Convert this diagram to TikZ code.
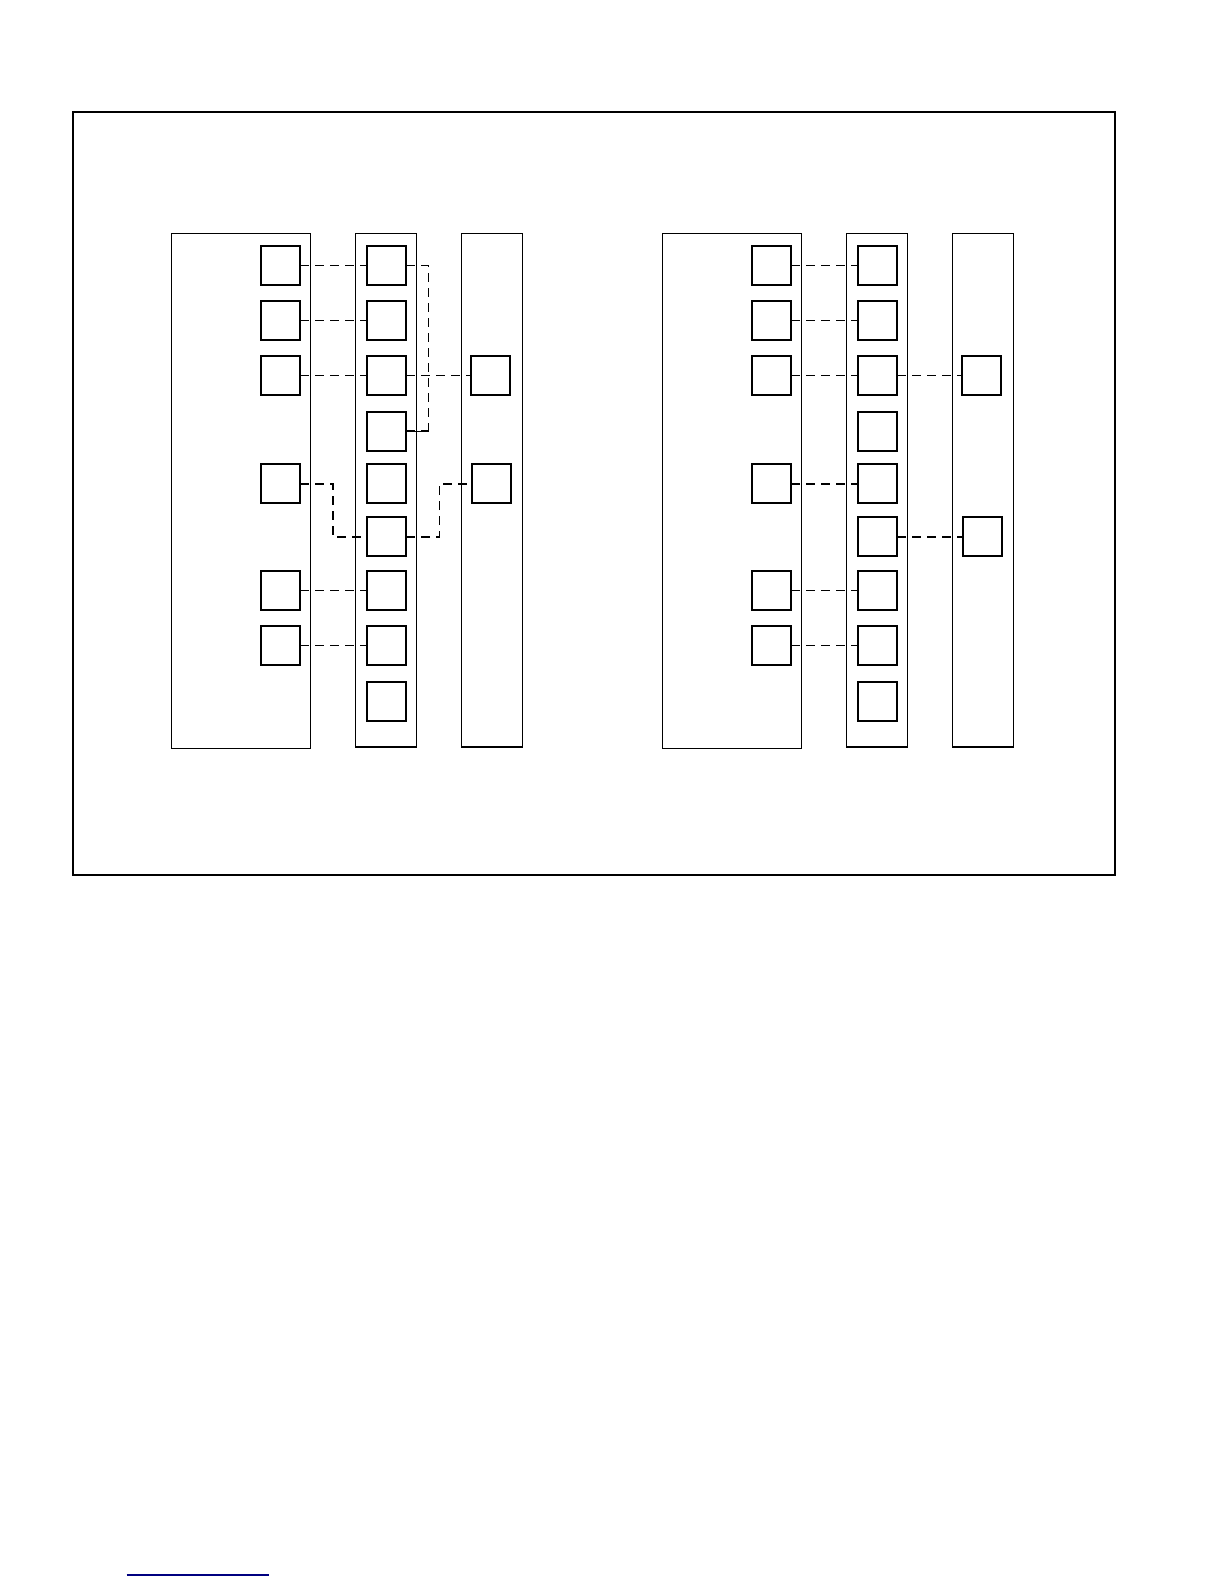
\documentclass[tikz,border=0pt]{standalone}
\usepackage{xcolor}
\usepackage{tikz}

\begin{document}
\begin{tikzpicture}[x=0.5bp, y=-0.5bp,
    box/.style={draw, rectangle, line width=1bp, minimum size=19.5bp, inner sep=0pt, outer sep=0pt},
    col/.style={draw, rectangle, line width=0.65bp, inner sep=0pt, outer sep=0pt},
    link/.style={line width=0.5bp, dash pattern=on 4.5bp off 3bp},
    thicklink/.style={line width=1bp, dash pattern=on 4.5bp off 3bp}]
    \useasboundingbox (0,0) rectangle (1224,1584);
    \draw[line width=1bp] (72.7,112) rectangle (1114.7,874.7);
    % two groups, the right one shifted
    \foreach \g/\dx in {l/0, r/491}{
        \begin{scope}[shift={(\dx,0)}]
            \node[col, minimum width=69.5bp, minimum height=257.3bp] (\g colA) at (240.8,491) {};
            \node[col, minimum width=30.3bp, minimum height=256.6bp] (\g colB) at (386,490.4) {};
            \node[col, minimum width=30.3bp, minimum height=256.6bp] (\g colC) at (492,490.4) {};
            \foreach \i/\y in {1/265, 2/320.7, 3/375.7, 5/483.7, 7/590.7, 8/645.8}
                \node[box] (\g a\i) at (280.8,\y) {};
            \foreach \i/\y in {1/265, 2/320.7, 3/375.7, 4/431, 5/483.7, 6/536.7, 7/590.7, 8/645.8, 9/701.7}
                \node[box] (\g b\i) at (386.6,\y) {};
            \node[box] (\g c3) at (490.3,375.7) {};
        \end{scope}
    }
    \node[box] (lc5) at (491.7,483.7) {};
    \node[box] (rc6) at (982.7,536.7) {};
    % left group
    \foreach \i in {1,2,3,7,8}
        \draw[link] (la\i) -- (lb\i);
    \draw[link] (lb3) -- (lc3);
    \draw[link] (lb1.east) -- ++(22,0) |- (lb4.east);
    \draw[thicklink] (lb4.east) -- ++(22,0);
    \draw[link, line width=0.8bp] (la5.east) -- ++(32.5,0) |- (lb6.west);
    \draw[link, line width=0.8bp] (lb6.east) -- ++(33.5,0) |- (lc5.west);
    % right group
    \foreach \i in {1,2,3,7,8}
        \draw[link] (ra\i) -- (rb\i);
    \draw[link] (rb3) -- (rc3);
    \draw[thicklink] (ra5) -- (rb5);
    \draw[thicklink] (rb6) -- (rc6);
    \draw[blue!50!black, line width=0.6bp] (126.7,1575) -- (269,1575);
\end{tikzpicture}
\end{document}
